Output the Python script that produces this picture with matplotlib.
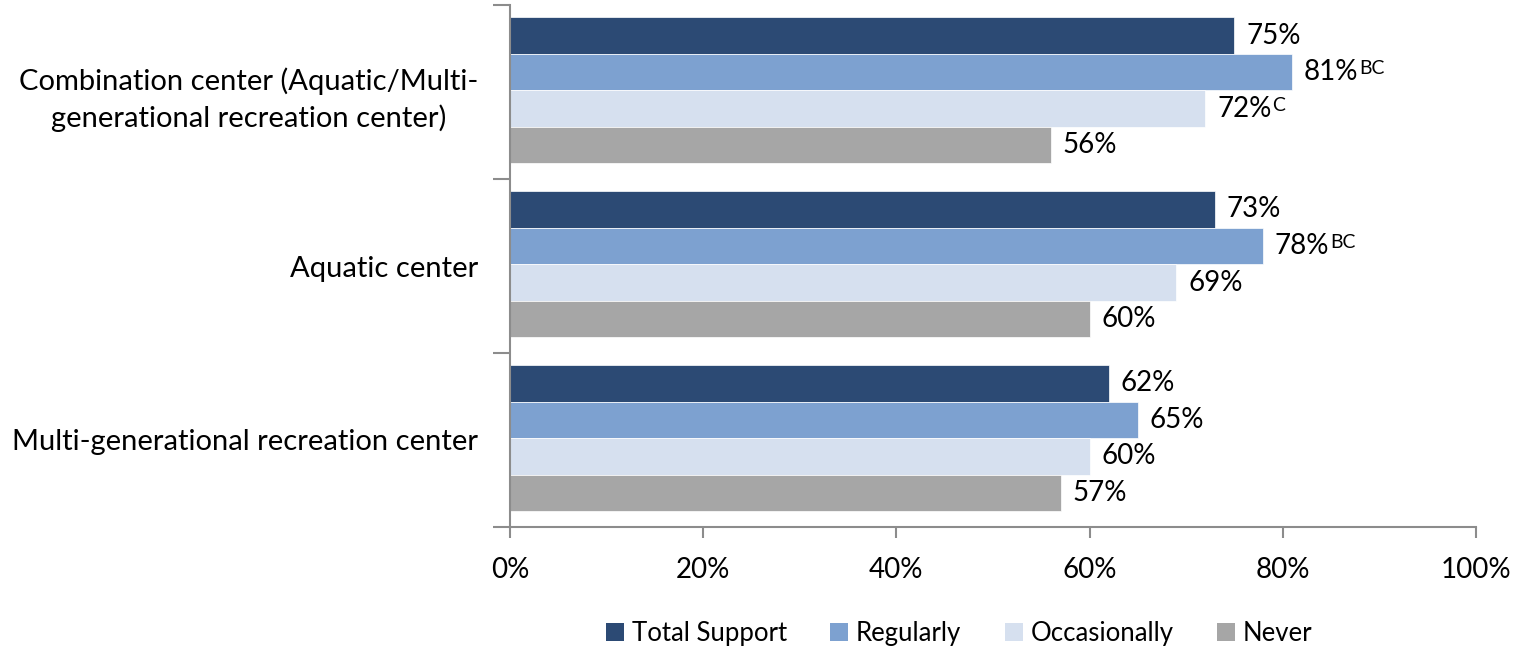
import matplotlib
matplotlib.use("Agg")
import matplotlib.pyplot as plt
import numpy as np
from matplotlib.patches import Patch

plt.rcParams["font.family"] = ["Lato", "DejaVu Sans"]

categories = [
    "Combination center (Aquatic/Multi-\ngenerational recreation center)",
    "Aquatic center",
    "Multi-generational recreation center",
]
series = ["Total Support", "Regularly", "Occasionally", "Never"]
colors = ["#2C4A74", "#7DA1D0", "#D6E0EF", "#A6A6A6"]

# values per series, categories top to bottom
total_support = [75, 73, 62]
regularly = [81, 78, 65]
occasionally = [72, 69, 60]
never = [56, 60, 57]
values = [total_support, regularly, occasionally, never]

# significance superscripts
sup_regularly = ["BC", "BC", ""]
sup_occasionally = ["C", "", ""]
sup_total = ["", "", ""]
sup_never = ["", "", ""]
sups = [sup_total, sup_regularly, sup_occasionally, sup_never]

fig = plt.figure(figsize=(15.13, 6.48), dpi=100)
ax = fig.add_axes([0.337, 0.187, 0.6385, 0.805])

n_cat = len(categories)
ypos = np.arange(n_cat)[::-1].astype(float)
bar_h = 0.21
offsets = (np.arange(4) - 1.5) * bar_h * -1 + 0.01

labels = []
for i, (s, vals) in enumerate(zip(series, values)):
    y = ypos + offsets[i]
    ax.barh(y, vals, height=bar_h, color=colors[i], label=s,
            edgecolor="white", linewidth=0.5)
    for j, v in enumerate(vals):
        t = ax.text(v + 1.2, y[j], f"{v}%", va="center", ha="left",
                    fontsize=20, color="black")
        labels.append((t, sups[i][j]))

ax.set_xlim(0, 100)
ax.set_ylim(-0.5, n_cat - 0.5)
ax.set_xticks(np.arange(0, 101, 20))
ax.set_xticklabels([f"{x}%" for x in range(0, 101, 20)], fontsize=20)
ax.set_yticks(ypos)
ax.set_yticklabels(categories, fontsize=21, multialignment="center", linespacing=1.45)
ax.set_yticks(np.arange(-0.5, n_cat, 1.0), minor=True)
ax.tick_params(axis="y", which="major", length=0, pad=23)
ax.tick_params(axis="y", which="minor", length=12, width=1.5, color="#8C8C8C", direction="out")
ax.tick_params(axis="x", length=8, width=1.5, color="#8C8C8C", pad=14)

for side in ["top", "right"]:
    ax.spines[side].set_visible(False)
for side in ["left", "bottom"]:
    ax.spines[side].set_color("#8C8C8C")
    ax.spines[side].set_linewidth(1.5)

handles = [Patch(facecolor=c, edgecolor="none") for c in colors]
fig.legend(handles, series, loc="center", bbox_to_anchor=(0.634, 0.023),
           ncol=4, frameon=False, fontsize=18.5, handlelength=0.7, handleheight=0.7,
           handletextpad=0.3, columnspacing=1.7)

# place superscripts after the value labels
fig.canvas.draw()
renderer = fig.canvas.get_renderer()
inv = fig.transFigure.inverted()
for t, sup in labels:
    if not sup:
        continue
    bb = t.get_window_extent(renderer)
    x0, y0 = inv.transform((bb.x1 + 1, bb.y1 - 1))
    fig.text(x0, y0, sup, fontsize=14, va="top", ha="left")

fig.savefig("out.png", dpi=100)
